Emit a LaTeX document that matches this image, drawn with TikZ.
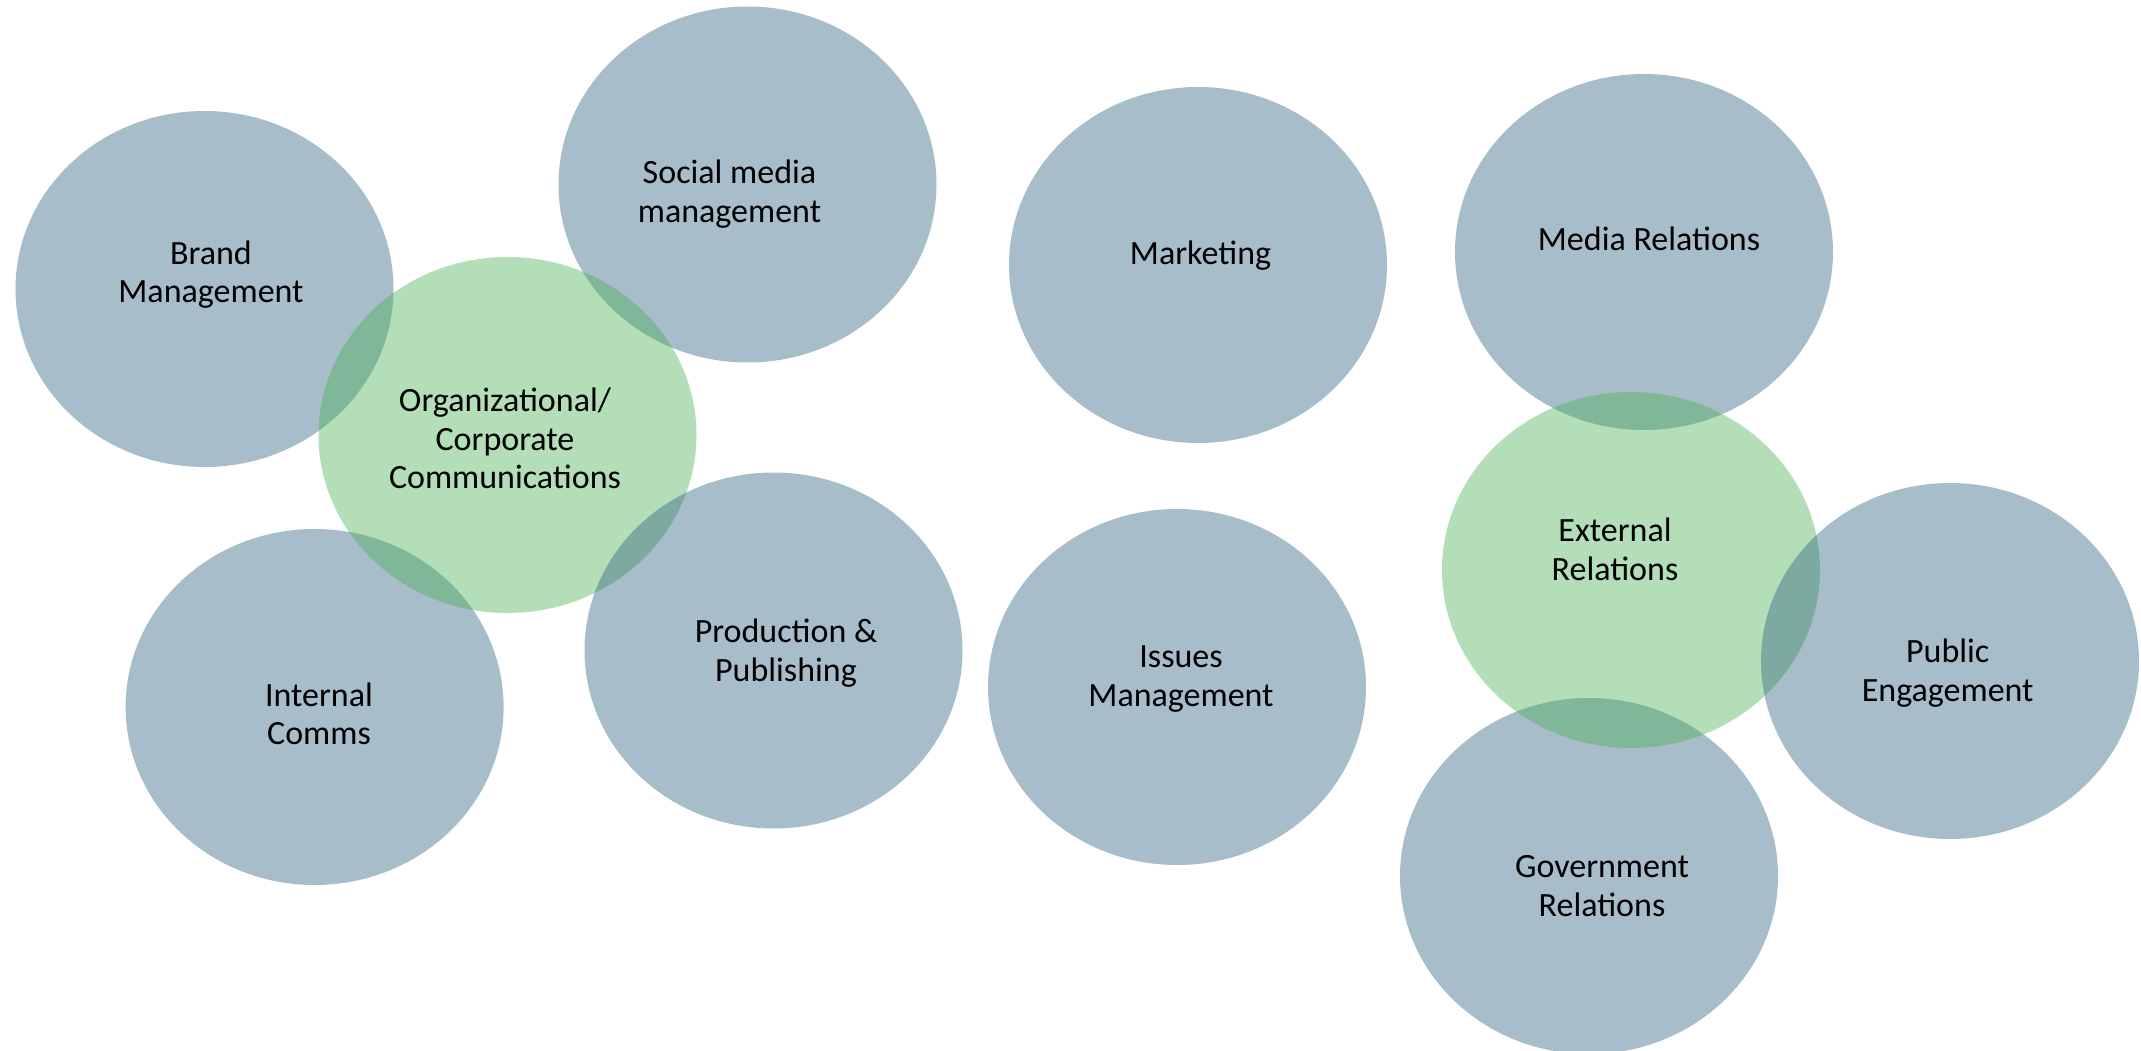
\documentclass[tikz,border=0pt]{standalone}
\usepackage{fontspec}
\setmainfont{Carlito}
\usetikzlibrary{shapes.geometric}
\definecolor{blobblue}{RGB}{48,98,129}
\definecolor{blobgreen}{RGB}{74,176,84}
\tikzset{
  blob/.style={ellipse, draw=none, fill opacity=0.42, minimum width=378pt, minimum height=356pt, inner sep=0pt},
  blueblob/.style={blob, fill=blobblue},
  greenblob/.style={blob, fill=blobgreen},
  lbl/.style={anchor=base, align=center, inner sep=0pt, text=black, font=\fontsize{34}{38.6}\selectfont}
}
\begin{document}
\begin{tikzpicture}[x=1pt,y=-1pt]
\useasboundingbox (0,0) rectangle (2141,1051);
% left cluster
\node[blueblob] (brand) at (204.5,289) {};
\node[blueblob] (social) at (747.5,184.5) {};
\node[blueblob] (internal) at (314.6,707) {};
\node[greenblob] (org) at (507.5,435) {};
\node[blueblob] (prod) at (773.5,650.5) {};
% middle
\node[blueblob] (marketing) at (1198,265) {};
\node[blueblob] (issues) at (1177,687) {};
% right cluster
\node[blueblob] (media) at (1644,252) {};
\node[blueblob] (gov) at (1589,876) {};
\node[greenblob] (external) at (1631,570) {};
\node[blueblob] (public) at (1950,661) {};
% labels (anchor = baseline of the last line)
\node[lbl] (tbrand) at (211,302.6) {Brand\\Management};
\node[lbl] (tsocial) at (729.5,222.6) {Social media\\management};
\node[lbl] (torg) at (505,488.8) {Organizational/\\Corporate\\Communications};
\node[lbl] (tinternal) at (319,744.7) {Internal\\Comms};
\node[lbl] (tprod) at (786,681) {Production \&\\Publishing};
\node[lbl] (tmarketing) at (1200.5,264.5) {Marketing};
\node[lbl] (tissues) at (1181,706) {Issues\\Management};
\node[lbl] (tmedia) at (1649,251) {Media Relations};
\node[lbl] (texternal) at (1615,580.3) {External\\Relations};
\node[lbl] (tpublic) at (1947.7,701) {Public\\Engagement};
\node[lbl] (tgov) at (1602,916) {Government\\Relations};
\end{tikzpicture}
\end{document}
